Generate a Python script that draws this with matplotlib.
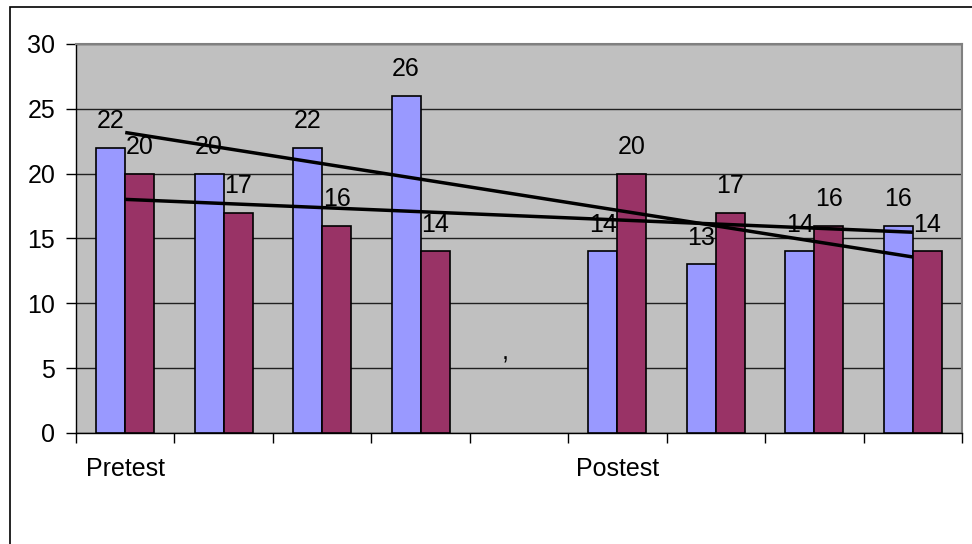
import matplotlib.pyplot as plt
from matplotlib.patches import Rectangle
import numpy as np

plt.rcParams['font.family'] = ['Liberation Sans', 'DejaVu Sans']

# nine category slots, the fifth one is left empty
categories = ['Pretest', '', '', '', '', 'Postest', '', '', '']
blue_vals = [22, 20, 22, 26, None, 14, 13, 14, 16]
red_vals = [20, 17, 16, 14, None, 20, 17, 16, 14]

blue = '#9999FF'
red = '#993366'
W, H = 972, 544
fs = 18

fig = plt.figure(figsize=(W / 100, H / 100), dpi=100)

# outer chart frame (runs off the right and bottom edges)
fig.patches.append(Rectangle((9.5 / W, -0.05), 1.0, 1 - 6.5 / H + 0.05,
                             transform=fig.transFigure, fill=False,
                             edgecolor='black', linewidth=1.2))

ax = fig.add_axes([76 / W, (H - 433) / H, (962 - 76) / W, (433 - 44) / H])
ax.set_facecolor('#C0C0C0')

x = np.arange(1, len(categories) + 1)
bw = 0.295

for i, (b, r) in enumerate(zip(blue_vals, red_vals)):
    if b is None:
        continue
    xi = x[i]
    ax.bar(xi - bw / 2, b, bw, color=blue, edgecolor='black', linewidth=1.2, zorder=3)
    ax.bar(xi + bw / 2, r, bw, color=red, edgecolor='black', linewidth=1.2, zorder=3)
    ax.annotate(str(b), (xi - bw / 2, b), xytext=(0, 10.5), textcoords='offset points',
                ha='center', va='bottom', fontsize=fs, zorder=5)
    ax.annotate(str(r), (xi + bw / 2, r), xytext=(0, 10.5), textcoords='offset points',
                ha='center', va='bottom', fontsize=fs, zorder=5)

# stray label on the empty slot
ax.text(4.86, 5.3, ',', ha='center', va='bottom', fontsize=fs, zorder=5)

# linear trend lines over the filled categories
for vals in (blue_vals, red_vals):
    xs = np.array([xi for xi, v in zip(x, vals) if v is not None], dtype=float)
    ys = np.array([v for v in vals if v is not None], dtype=float)
    k, c = np.polyfit(xs, ys, 1)
    ax.plot([x[0], x[-1]], [k * x[0] + c, k * x[-1] + c], color='black',
            linewidth=2.5, zorder=4, solid_capstyle='butt')

ax.set_xlim(0.5, len(categories) + 0.5)
ax.set_ylim(0, 30)
ax.set_yticks(range(0, 31, 5))
ax.yaxis.grid(True, color='#202020', linewidth=1.0, zorder=1)
ax.set_axisbelow(True)

ax.set_xticks(np.arange(0.5, len(categories) + 1, 1.0))
ax.set_xticklabels([])
ax.set_xticks(x, minor=True)
ax.set_xticklabels(categories, minor=True, fontsize=fs)
ax.tick_params(axis='x', which='minor', length=0, pad=17)
ax.tick_params(axis='x', which='major', length=7, width=1, color='black')
ax.tick_params(axis='y', length=7, width=1, labelsize=fs, pad=8)

for side in ('top', 'right'):
    ax.spines[side].set_color('#808080')
    ax.spines[side].set_linewidth(1.5)
for side in ('left', 'bottom'):
    ax.spines[side].set_color('black')
    ax.spines[side].set_linewidth(1.0)

fig.savefig('out.png', dpi=100)
